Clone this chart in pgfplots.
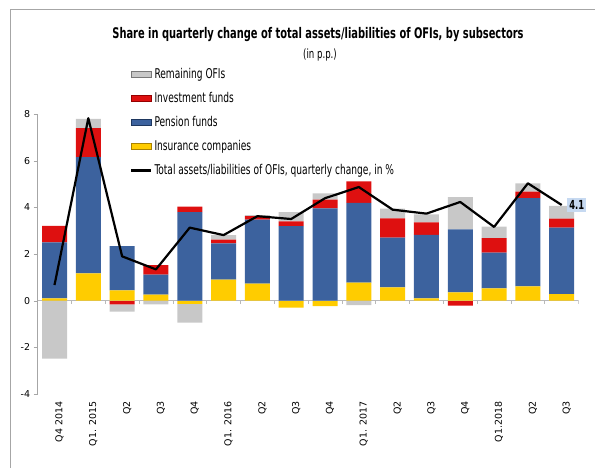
\documentclass[border=0pt]{standalone}
\usepackage{pgfplots}
\pgfplotsset{compat=1.18}
\usepackage{pgfplotstable}
\usepackage{fontspec}
\setmainfont{DejaVu Sans}
\newfontfamily\cond[FakeStretch=0.75]{DejaVu Sans Condensed}

\definecolor{cRem}{RGB}{200,200,200}
\definecolor{cRemD}{RGB}{120,120,120}
\definecolor{cInv}{RGB}{222,16,16}
\definecolor{cInvD}{RGB}{150,0,0}
\definecolor{cPen}{RGB}{60,98,158}
\definecolor{cPenD}{RGB}{30,55,95}
\definecolor{cIns}{RGB}{255,204,0}
\definecolor{cInsD}{RGB}{170,130,0}
\definecolor{cLab}{RGB}{198,217,241}

% positive contributions (p.p.)
\pgfplotstableread{
x ins pen inv rem
0 0.10 2.40 0.70 0.00
1 1.17 4.98 1.24 0.40
2 0.44 1.90 0.00 0.00
3 0.26 0.86 0.40 0.00
4 0.00 3.79 0.24 0.00
5 0.90 1.55 0.17 0.19
6 0.73 2.74 0.15 0.05
7 0.00 3.19 0.21 0.39
8 0.00 3.96 0.37 0.27
9 0.77 3.42 0.92 0.00
10 0.57 2.13 0.83 0.41
11 0.10 2.72 0.53 0.35
12 0.36 2.70 0.00 1.38
13 0.53 1.53 0.62 0.49
14 0.61 3.78 0.28 0.36
15 0.28 2.85 0.39 0.54
}\posdata

% negative contributions (p.p.)
\pgfplotstableread{
x ins pen inv rem
0 0.00 0 0.00 -2.48
1 0.00 0 0.00 0.00
2 0.00 0 -0.16 -0.31
3 0.00 0 0.00 -0.16
4 -0.14 0 0.00 -0.80
5 0.00 0 0.00 0.00
6 0.00 0 0.00 0.00
7 -0.30 0 0.00 0.00
8 -0.23 0 0.00 0.00
9 0.00 0 0.00 -0.19
10 0.00 0 0.00 0.00
11 0.00 0 0.00 0.00
12 0.00 0 -0.21 0.00
13 0.00 0 0.00 0.00
14 0.00 0 0.00 0.00
15 0.00 0 0.00 0.00
}\negdata

% total assets/liabilities of OFIs, quarterly change, in %
\pgfplotstableread{
x tot
0 0.67
1 7.82
2 1.90
3 1.34
4 3.13
5 2.81
6 3.62
7 3.50
8 4.39
9 4.87
10 3.90
11 3.73
12 4.23
13 3.16
14 5.03
15 4.10
}\totdata

\pgfplotsset{
  base/.style={
    scale only axis, width=541bp, height=280bp,
    xmin=-0.5, xmax=15.5, ymin=-4, ymax=8,
    at={(37.6bp,74bp)}, anchor=south west,
  },
  barax/.style={base, hide axis, ybar stacked, bar width=25bp},
}

\begin{document}
\begin{tikzpicture}
\useasboundingbox (0,0) rectangle (595bp,468bp);

% negative parts
\begin{axis}[barax]
  \draw[gray!55, line width=0.7bp] (axis cs:-0.5,0) -- (axis cs:15.5,0);
  \pgfplotsinvokeforeach{0.5,1.5,2.5,3.5,4.5,5.5,6.5,7.5,8.5,9.5,10.5,11.5,12.5,13.5,14.5,15.5}{
    \draw[gray!55, line width=0.6bp] (axis cs:#1,0) -- ([yshift=-3bp]axis cs:#1,0);}
  \addplot[fill=cIns, draw=none] table[x=x, y=ins]{\negdata};
  \addplot[fill=cPen, draw=none] table[x=x, y=pen]{\negdata};
  \addplot[fill=cInv, draw=none] table[x=x, y=inv]{\negdata};
  \addplot[fill=cRem, draw=none] table[x=x, y=rem]{\negdata};
\end{axis}

% positive parts
\begin{axis}[barax]
  \addplot[fill=cIns, draw=none] table[x=x, y=ins]{\posdata};
  \addplot[fill=cPen, draw=none] table[x=x, y=pen]{\posdata};
  \addplot[fill=cInv, draw=none] table[x=x, y=inv]{\posdata};
  \addplot[fill=cRem, draw=none] table[x=x, y=rem]{\posdata};
\end{axis}

% axes, line, legend
\begin{axis}[base, clip=false,
  axis x line*=bottom, axis y line*=left,
  x axis line style={draw=none},
  y axis line style={gray!70, -},
  xtick={0,...,15},
  xticklabels={Q4 2014, Q1. 2015, Q2, Q3, Q4, Q1. 2016, Q2, Q3, Q4, Q1. 2017, Q2, Q3, Q4, Q1.2018, Q2, Q3},
  xtick style={draw=none},
  x tick label style={rotate=90, anchor=east, font=\fontsize{9.5}{11}\selectfont, yshift=-5bp},
  ytick={-4,-2,0,2,4,6,8},
  ytick style={gray!70},
  tick align=outside, major tick length=4bp,
  y tick label style={font=\fontsize{9.5}{11}\selectfont},
  /pgf/number format/assume math mode=true,
  legend style={at={(0.171,1.17)}, anchor=north west, draw=none, fill=none,
    font=\cond\fontsize{13.5}{15}\selectfont, row sep=8.3bp, inner sep=0pt,
    /tikz/every even column/.append style={column sep=0bp}},
  legend cell align=left,
]
  \addlegendimage{legend image code/.code={\draw[fill=cRem, draw=cRemD] (0bp,-3bp) rectangle (20bp,3bp);}}
  \addlegendentry{Remaining OFIs}
  \addlegendimage{legend image code/.code={\draw[fill=cInv, draw=cInvD] (0bp,-3bp) rectangle (20bp,3bp);}}
  \addlegendentry{Investment funds}
  \addlegendimage{legend image code/.code={\draw[fill=cPen, draw=cPenD] (0bp,-3bp) rectangle (20bp,3bp);}}
  \addlegendentry{Pension funds}
  \addlegendimage{legend image code/.code={\draw[fill=cIns, draw=cInsD] (0bp,-3bp) rectangle (20bp,3bp);}}
  \addlegendentry{Insurance companies}
  \addplot[black, line width=2.2bp, mark=none, line join=round,
    legend image code/.code={\draw[black, line width=2.2bp] (0bp,0bp) -- (20bp,0bp);}]
    table[x=x, y=tot]{\totdata};
  \addlegendentry{Total assets/liabilities of OFIs, quarterly change, in \%}
  \node[fill=cLab, font=\cond\bfseries\fontsize{12.5}{14}\selectfont, inner sep=2bp, anchor=west, xshift=5.5bp] at (axis cs:15,4.1) {4.1};
\end{axis}

\node[font=\cond\bfseries\fontsize{14.7}{17}\selectfont] at (318bp,433bp) {Share in quarterly change of total assets/liabilities of OFIs, by subsectors};
\node[font=\cond\fontsize{12.8}{15}\selectfont] at (320bp,413bp) {(in p.p.)};
\draw[gray!70, line width=1bp] (10bp,0bp) -- (10bp,458bp) -- (595bp,458bp);
\end{tikzpicture}
\end{document}
